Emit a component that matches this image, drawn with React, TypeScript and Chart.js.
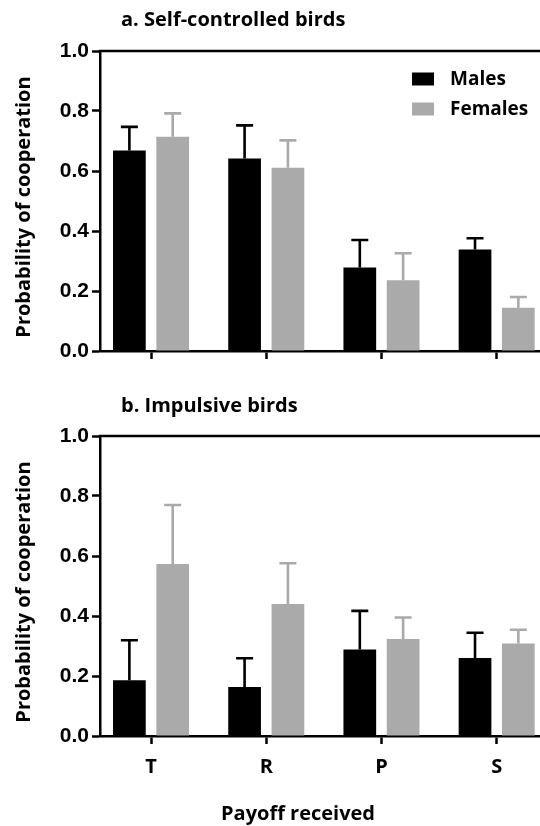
import React, { useEffect, useRef } from "react";
import { Chart, registerables } from "chart.js";

Chart.register(...registerables);

// ---------- data ----------
const categories = ["T", "R", "P", "S"];
const seriesLabels = ["Males", "Females"];

const selfMales = [0.668, 0.642, 0.278, 0.338];
const selfMalesErr = [0.079, 0.11, 0.092, 0.038];
const selfFemales = [0.714, 0.611, 0.236, 0.144];
const selfFemalesErr = [0.078, 0.091, 0.09, 0.036];

const impMales = [0.186, 0.163, 0.288, 0.26];
const impMalesErr = [0.133, 0.096, 0.129, 0.084];
const impFemales = [0.573, 0.44, 0.323, 0.308];
const impFemalesErr = [0.197, 0.136, 0.072, 0.046];

const yTickValues = [0, 0.2, 0.4, 0.6, 0.8, 1.0];
const panelTitles = ["a. Self-controlled birds", "b. Impulsive birds"];
const yAxisTitle = "Probability of cooperation";
const xAxisTitle = "Payoff received";

// ---------- styles ----------
const MALE_COLOR = "#000000";
const FEMALE_COLOR = "#aaaaaa";
const TEXT_FONT = "'Open Sans', 'DejaVu Sans', sans-serif";
const NUM_FONT = "'Liberation Sans', Arial, sans-serif";
const AXIS_W = 2.5;

const errorBarPlugin = {
  id: "errorBars",
  afterDatasetsDraw(chart: any) {
    const ctx = chart.ctx;
    const yScale = chart.scales.y;
    chart.data.datasets.forEach((ds: any, di: number) => {
      const meta = chart.getDatasetMeta(di);
      meta.data.forEach((bar: any, i: number) => {
        const v = ds.data[i].y;
        const e = ds.errors[i];
        const topPx = yScale.getPixelForValue(v + e);
        const x = bar.x;
        const y = bar.y;
        const cap = bar.width * 0.52;
        ctx.save();
        ctx.strokeStyle = ds.backgroundColor;
        ctx.lineWidth = 2.6;
        ctx.lineCap = "butt";
        ctx.beginPath();
        ctx.moveTo(x, y);
        ctx.lineTo(x, topPx);
        ctx.moveTo(x - cap / 2, topPx);
        ctx.lineTo(x + cap / 2, topPx);
        ctx.stroke();
        ctx.restore();
      });
    });
  },
};

const decorPlugin = {
  id: "decor",
  afterDraw(chart: any, _args: any, opts: any) {
    const { ctx, chartArea } = chart;
    ctx.save();
    // top frame line
    ctx.strokeStyle = "#000";
    ctx.lineWidth = AXIS_W;
    ctx.beginPath();
    ctx.moveTo(chartArea.left - AXIS_W / 2, chartArea.top);
    ctx.lineTo(chartArea.right, chartArea.top);
    ctx.stroke();

    // texts
    (opts.texts || []).forEach((t: any) => {
      ctx.save();
      ctx.fillStyle = "#000";
      ctx.font = `bold ${t.size}px ${TEXT_FONT}`;
      ctx.textAlign = t.align || "left";
      ctx.textBaseline = "alphabetic";
      ctx.translate(t.x, t.y);
      if (t.rotate) ctx.rotate(t.rotate);
      ctx.fillText(t.text, 0, 0);
      ctx.restore();
    });

    // legend
    if (opts.legend) {
      const L = opts.legend;
      chart.data.datasets.forEach((ds: any, i: number) => {
        const y = L.y + i * L.spacing;
        ctx.fillStyle = ds.backgroundColor;
        ctx.fillRect(L.x, y - L.boxH / 2, L.boxW, L.boxH);
        ctx.fillStyle = "#000";
        ctx.font = `bold ${L.size}px ${TEXT_FONT}`;
        ctx.textAlign = "left";
        ctx.textBaseline = "middle";
        ctx.fillText(ds.label, L.textX, y + 1);
      });
    }
    ctx.restore();
  },
};

type PanelProps = {
  top: number;
  height: number;
  males: number[];
  malesErr: number[];
  females: number[];
  femalesErr: number[];
  showXLabels: boolean;
  padBottom: number;
  xAxisHeight: number;
  texts: any[];
  legend: any;
};

function Panel(p: PanelProps) {
  const ref = useRef<HTMLCanvasElement>(null);
  useEffect(() => {
    const canvas = ref.current as HTMLCanvasElement;
    const barOpts = { categoryPercentage: 0.752, barPercentage: 0.755, borderWidth: 0 };
    const chart = new Chart(canvas, {
      type: "bar",
      data: {
        datasets: [
          {
            label: seriesLabels[0],
            data: p.males.map((y, i) => ({ x: i, y })),
            errors: p.malesErr,
            backgroundColor: MALE_COLOR,
            ...barOpts,
          } as any,
          {
            label: seriesLabels[1],
            data: p.females.map((y, i) => ({ x: i, y })),
            errors: p.femalesErr,
            backgroundColor: FEMALE_COLOR,
            ...barOpts,
          } as any,
        ],
      },
      options: {
        responsive: false,
        animation: false,
        events: [],
        layout: { padding: { top: 51, bottom: p.padBottom, left: 0, right: 0 } },
        plugins: {
          legend: { display: false },
          tooltip: { enabled: false },
          title: { display: false },
          decor: { texts: p.texts, legend: p.legend },
        } as any,
        scales: {
          x: {
            type: "linear",
            min: -0.443,
            max: 3.376,
            bounds: "data",
            offset: false,
            z: 1,
            afterBuildTicks: (s: any) => {
              s.ticks = categories.map((_, i) => ({ value: i }));
            },
            afterFit: (s: any) => {
              s.height = p.xAxisHeight;
              s.paddingLeft = 0;
              s.paddingRight = 0;
            },
            grid: {
              display: true,
              offset: false,
              drawOnChartArea: false,
              drawTicks: true,
              tickLength: 8,
              tickWidth: AXIS_W,
              tickColor: "#000",
              color: "#000",
            },
            border: { display: true, color: "#000", width: AXIS_W },
            ticks: {
              display: p.showXLabels,
              autoSkip: false,
              maxRotation: 0,
              padding: 11,
              color: "#000",
              font: { family: TEXT_FONT, size: 20, weight: "bold" },
              callback: (v: any) => categories[Math.round(Number(v))] ?? "",
            },
          },
          y: {
            type: "linear",
            min: 0,
            max: 1,
            z: 1,
            afterBuildTicks: (s: any) => {
              s.ticks = yTickValues.map((v) => ({ value: v }));
            },
            afterFit: (s: any) => {
              s.width = 100;
              s.paddingTop = 0;
              s.paddingBottom = 0;
            },
            grid: {
              display: true,
              drawOnChartArea: false,
              drawTicks: true,
              tickLength: 8,
              tickWidth: AXIS_W,
              tickColor: "#000",
              color: "#000",
            },
            border: { display: true, color: "#000", width: AXIS_W },
            ticks: {
              padding: 3,
              color: "#000",
              font: { family: NUM_FONT, size: 21, weight: "bold" },
              callback: (v: any) => Number(v).toFixed(1),
            },
          },
        } as any,
      },
      plugins: [errorBarPlugin, decorPlugin],
    });
    return () => chart.destroy();
  }, []);
  return (
    <canvas
      ref={ref}
      width={540}
      height={p.height}
      style={{ position: "absolute", left: 0, top: p.top, width: 540, height: p.height, display: "block" }}
    />
  );
}

export default function App() {
  const yTitle = (cy: number) => ({ text: yAxisTitle, x: 30, y: cy, size: 20, rotate: -Math.PI / 2, align: "center" });
  return (
    <div
      style={{
        position: "fixed",
        left: 0,
        top: 0,
        width: 540,
        height: 826,
        overflow: "hidden",
        background: "#fff",
      }}
    >
      <Panel
        top={0}
        height={400}
        males={selfMales}
        malesErr={selfMalesErr}
        females={selfFemales}
        femalesErr={selfFemalesErr}
        showXLabels={false}
        padBottom={19}
        xAxisHeight={30}
        texts={[{ text: panelTitles[0], x: 121, y: 26, size: 20, align: "left" }, yTitle(207)]}
        legend={{ x: 412, y: 79, spacing: 30, boxW: 22, boxH: 13, textX: 450, size: 19 }}
      />
      <Panel
        top={385}
        height={441}
        males={impMales}
        malesErr={impMalesErr}
        females={impFemales}
        femalesErr={impFemalesErr}
        showXLabels={true}
        padBottom={30}
        xAxisHeight={60}
        texts={[
          { text: panelTitles[1], x: 121, y: 27, size: 20, align: "left" },
          yTitle(207),
          { text: xAxisTitle, x: 298, y: 435, size: 20, align: "center" },
        ]}
        legend={null}
      />
    </div>
  );
}
